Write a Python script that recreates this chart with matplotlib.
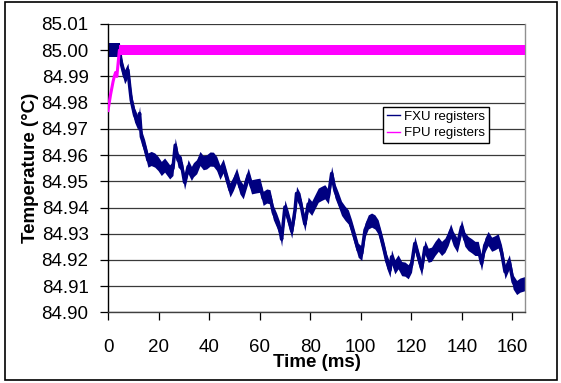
import matplotlib.pyplot as plt
from matplotlib.lines import Line2D
from matplotlib.patches import Rectangle

plt.rcParams["font.family"] = ["Liberation Sans", "DejaVu Sans"]

# FXU registers: centre of the noisy trace
fxu_time = [0.0, 4.6, 5.3, 6.6, 7.9, 8.6, 9.2, 10.5, 11.9, 12.5, 13.2, 14.5, 15.8,
            17.1, 18.5, 19.8, 21.1, 22.4, 24.4, 25.7, 26.6, 27.7, 29.0, 30.3, 31.7,
            33.0, 33.8, 35.1, 36.4, 37.7, 39.0, 40.4, 41.7, 43.0, 44.3, 45.6, 47.0,
            48.3, 49.6, 50.9, 52.2, 53.5, 55.5, 56.8, 58.8, 60.1, 61.4, 62.8, 64.1,
            65.4, 66.7, 68.0, 68.7, 70.0, 71.3, 72.7, 74.0, 74.6, 76.0, 77.3, 77.9,
            79.2, 80.6, 81.9, 83.2, 84.5, 85.8, 87.2, 88.5, 89.8, 91.1, 92.4, 93.8,
            95.1, 96.4, 97.7, 99.0, 100.4, 101.7, 103.0, 104.3, 105.6, 106.9, 108.3,
            109.3, 110.3, 111.6, 112.2, 113.5, 114.8, 116.2, 117.5, 118.8, 120.1,
            121.4, 122.8, 124.1, 125.4, 126.7, 128.0, 129.4, 130.7, 132.0, 133.3,
            134.6, 135.6, 136.6, 138.2, 139.9, 141.2, 142.5, 143.9, 145.2, 146.5,
            147.8, 149.1, 150.4, 151.8, 153.0, 154.4, 155.7, 157.1, 158.8, 160.3,
            161.7, 163.0, 165.0]
fxu_temp = [85.0000, 85.0000, 84.9947, 84.9899, 84.9924, 84.9861, 84.9810, 84.9753,
            84.9721, 84.9759, 84.9670, 84.9632, 84.9581, 84.9587, 84.9581, 84.9568,
            84.9549, 84.9562, 84.9536, 84.9549, 84.9638, 84.9581, 84.9568, 84.9496,
            84.9556, 84.9530, 84.9544, 84.9556, 84.9587, 84.9571, 84.9574, 84.9585,
            84.9584, 84.9568, 84.9534, 84.9559, 84.9511, 84.9467, 84.9492, 84.9524,
            84.9479, 84.9460, 84.9524, 84.9479, 84.9483, 84.9485, 84.9435, 84.9444,
            84.9441, 84.9381, 84.9352, 84.9317, 84.9279, 84.9402, 84.9361, 84.9310,
            84.9390, 84.9454, 84.9428, 84.9364, 84.9337, 84.9413, 84.9397, 84.9422,
            84.9447, 84.9454, 84.9460, 84.9441, 84.9530, 84.9464, 84.9432, 84.9397,
            84.9378, 84.9364, 84.9326, 84.9282, 84.9237, 84.9225, 84.9314, 84.9345,
            84.9352, 84.9345, 84.9326, 84.9276, 84.9237, 84.9195, 84.9161, 84.9212,
            84.9174, 84.9193, 84.9167, 84.9165, 84.9155, 84.9180, 84.9263, 84.9212,
            84.9167, 84.9248, 84.9218, 84.9222, 84.9244, 84.9260, 84.9244, 84.9256,
            84.9282, 84.9311, 84.9282, 84.9256, 84.9326, 84.9279, 84.9263, 84.9254,
            84.9244, 84.9244, 84.9187, 84.9256, 84.9282, 84.9260, 84.9265, 84.9273,
            84.9231, 84.9155, 84.9193, 84.9116, 84.9095, 84.9104, 84.9110]
fxu_noise = 0.0027            # half height of the noise band
fxu_block = [0.0, 4.6]        # initial dense block around 85.00
fxu_block_temp = [84.9973, 85.0029]

# FPU registers
fpu_time = [0.0, 0.5, 1.0, 1.5, 2.0, 2.5, 3.0, 3.5, 4.0, 4.5, 165.0]
fpu_temp = [84.977, 84.980, 84.983, 84.9855, 84.988, 84.990, 84.9915, 84.990,
            84.995, 85.000, 85.000]
fpu_band = [84.9980, 85.0018]

x_ticks = [0, 20, 40, 60, 80, 100, 120, 140, 160]
y_ticks = [84.90, 84.91, 84.92, 84.93, 84.94, 84.95, 84.96, 84.97, 84.98, 84.99,
           85.00, 85.01]

fxu_color = "#000080"
fpu_color = "#FF00FF"

fig = plt.figure(figsize=(5.61, 3.83), dpi=100)
ax = fig.add_axes([108 / 561, 1 - 312.4 / 383, 417 / 561, 288.4 / 383])

for y in y_ticks:
    ax.axhline(y, color="#3a3a3a", lw=0.9, zorder=1)

# FXU trace
lo = [v - fxu_noise for v in fxu_temp]
hi = [v + fxu_noise for v in fxu_temp]
ax.fill_between(fxu_time[1:], lo[1:], hi[1:], color=fxu_color, lw=0, zorder=2)
ax.plot(fxu_time[1:], fxu_temp[1:], color=fxu_color, lw=2.5, zorder=2)
ax.fill_between(fxu_block, fxu_block_temp[0], fxu_block_temp[1],
                color=fxu_color, lw=0, zorder=2)

# FPU trace
ax.plot(fpu_time, fpu_temp, color=fpu_color, lw=2.2, zorder=3)
ax.fill_between([fpu_time[-2], fpu_time[-1]], fpu_band[0], fpu_band[1],
                color=fpu_color, lw=0, zorder=3)

ax.set_xlim(0, 165)
ax.set_ylim(84.90, 85.01)
ax.set_xticks(x_ticks)
ax.set_yticks(y_ticks)
ax.set_yticklabels([f"{v:.2f}" for v in y_ticks])
ax.tick_params(axis="both", direction="out", length=6, width=0.9,
               labelsize=13.5, colors="black")
ax.tick_params(axis="x", pad=13)
ax.tick_params(axis="y", pad=8)

ax.spines["top"].set_visible(False)
ax.spines["left"].set_color("black")
ax.spines["bottom"].set_color("#404040")
ax.spines["right"].set_color("#909090")
for s in ax.spines.values():
    s.set_linewidth(1.0)

ax.set_xlabel("Time (ms)", fontsize=13.5, fontweight="bold", labelpad=-1)
ax.set_ylabel("Temperature (°C)", fontsize=13.5, fontweight="bold", labelpad=2)

handles = [Line2D([], [], color=fxu_color, lw=1), Line2D([], [], color=fpu_color, lw=1)]
leg = ax.legend(handles, ["FXU registers", "FPU registers"], loc="upper left",
                bbox_to_anchor=(0.66, 0.713), fontsize=9.5, frameon=True,
                fancybox=False, edgecolor="black", framealpha=1,
                handlelength=1.0, handletextpad=0.3, borderpad=0.3,
                labelspacing=0.3, borderaxespad=0)
leg.get_frame().set_linewidth(1.0)
leg.set_zorder(5)

fig.patches.append(Rectangle((5 / 561, 3 / 383), 552 / 561, 378 / 383,
                             transform=fig.transFigure, fill=False,
                             edgecolor="black", lw=1.2))

fig.savefig("out.png", dpi=100)
